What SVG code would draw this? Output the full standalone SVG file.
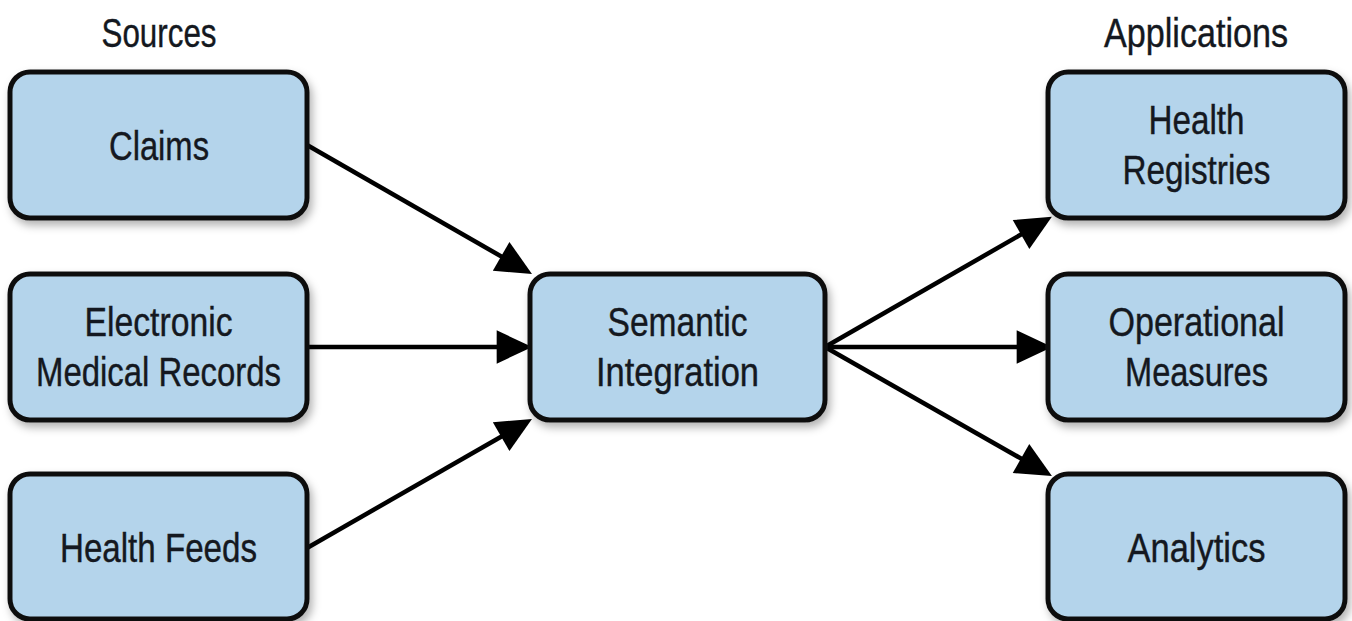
<svg xmlns="http://www.w3.org/2000/svg" width="1352" height="621" viewBox="0 0 1352 621">
<style>
.box{fill:#b4d4eb;stroke:#111;stroke-width:5}
.t{font-family:"Liberation Sans",Arial,sans-serif;font-size:40px;fill:#141820;text-anchor:middle;stroke:#141820;stroke-width:0.4}
.c{stroke:#000;stroke-width:4.5;fill:none;marker-end:url(#ah)}
</style>
<defs>
<filter id="sh" x="-10%" y="-10%" width="125%" height="130%">
<feDropShadow dx="3" dy="5" stdDeviation="4" flood-color="#000" flood-opacity="0.3"/>
</filter>
<marker id="ah" markerUnits="userSpaceOnUse" markerWidth="40" markerHeight="40" viewBox="0 -18 34 36" refX="12" refY="0" orient="auto">
<path d="M0,-15 L32,0 L0,15 z" fill="#000"/>
</marker>
</defs>
<rect width="1352" height="621" fill="#fff"/>
<text class="t" x="159" y="47" textLength="115" lengthAdjust="spacingAndGlyphs">Sources</text>
<text class="t" x="1196" y="47" textLength="184" lengthAdjust="spacingAndGlyphs">Applications</text>
<g id="connectors">
<line class="c" x1="307" y1="145" x2="512.7" y2="263"/>
<line class="c" x1="307" y1="347" x2="510" y2="347"/>
<line class="c" x1="307" y1="548" x2="512.7" y2="430"/>
<line class="c" x1="825" y1="347" x2="1032.6" y2="227.9"/>
<line class="c" x1="825" y1="347" x2="1030" y2="347"/>
<line class="c" x1="825" y1="347" x2="1032.6" y2="465.1"/>
</g>
<g id="claims"><rect class="box" filter="url(#sh)" x="10" y="72" width="297" height="146" rx="20"/><text class="t" x="159" y="160" textLength="100" lengthAdjust="spacingAndGlyphs">Claims</text></g>
<g id="emr"><rect class="box" filter="url(#sh)" x="10" y="274" width="297" height="146" rx="20"/><text class="t" x="158.5" y="336" textLength="148" lengthAdjust="spacingAndGlyphs">Electronic</text><text class="t" x="158.5" y="386" textLength="245" lengthAdjust="spacingAndGlyphs">Medical Records</text></g>
<g id="feeds"><rect class="box" filter="url(#sh)" x="10" y="474" width="297" height="145" rx="20"/><text class="t" x="158.5" y="562" textLength="197" lengthAdjust="spacingAndGlyphs">Health Feeds</text></g>
<g id="semantic"><rect class="box" filter="url(#sh)" x="530" y="274" width="295" height="146" rx="20"/><text class="t" x="677.5" y="336" textLength="140" lengthAdjust="spacingAndGlyphs">Semantic</text><text class="t" x="677.5" y="386" textLength="163" lengthAdjust="spacingAndGlyphs">Integration</text></g>
<g id="registries"><rect class="box" filter="url(#sh)" x="1048" y="72" width="297" height="146" rx="20"/><text class="t" x="1196.5" y="134" textLength="96" lengthAdjust="spacingAndGlyphs">Health</text><text class="t" x="1196.5" y="184" textLength="148" lengthAdjust="spacingAndGlyphs">Registries</text></g>
<g id="operational"><rect class="box" filter="url(#sh)" x="1048" y="274" width="297" height="146" rx="20"/><text class="t" x="1196.5" y="336" textLength="176" lengthAdjust="spacingAndGlyphs">Operational</text><text class="t" x="1196.5" y="386" textLength="143" lengthAdjust="spacingAndGlyphs">Measures</text></g>
<g id="analytics"><rect class="box" filter="url(#sh)" x="1048" y="474" width="297" height="145" rx="20"/><text class="t" x="1196.5" y="562" textLength="138" lengthAdjust="spacingAndGlyphs">Analytics</text></g>
</svg>
